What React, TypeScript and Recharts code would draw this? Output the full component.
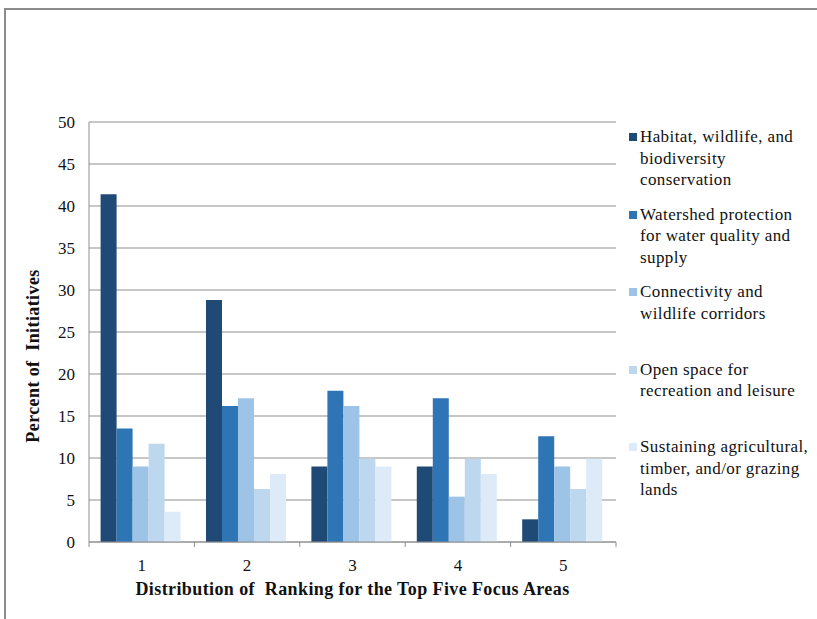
import React from 'react';
import { BarChart, Bar, XAxis, YAxis, CartesianGrid, Label } from 'recharts';

const categories = ['1', '2', '3', '4', '5'];
const yTicks = [0, 5, 10, 15, 20, 25, 30, 35, 40, 45, 50];

const habitat = [41.4, 28.8, 9.0, 9.0, 2.7];
const watershed = [13.5, 16.2, 18.0, 17.1, 12.6];
const connectivity = [9.0, 17.1, 16.2, 5.4, 9.0];
const openSpace = [11.7, 6.3, 9.9, 9.9, 6.3];
const agriculture = [3.6, 8.1, 9.0, 8.1, 9.9];

const seriesNames = [
  'Habitat, wildlife, and\nbiodiversity\nconservation',
  'Watershed protection\nfor water quality and\nsupply',
  'Connectivity and\nwildlife corridors',
  'Open space for\nrecreation and leisure',
  'Sustaining agricultural,\ntimber, and/or grazing\nlands',
];
const seriesKeys = ['habitat', 'watershed', 'connectivity', 'openSpace', 'agriculture'];
const seriesColors = ['#1f4a76', '#2e75b6', '#9dc3e6', '#bdd7ee', '#dcebf7'];

const data = categories.map((name, i) => ({
  name,
  habitat: habitat[i],
  watershed: watershed[i],
  connectivity: connectivity[i],
  openSpace: openSpace[i],
  agriculture: agriculture[i],
}));

const FONT = '"Liberation Serif", "Times New Roman", serif';
const GRID = '#8f8f8f';

// plot box
const W = 817;
const H = 619;
const PLOT_LEFT = 89;
const PLOT_RIGHT = 616;
const PLOT_TOP = 122;
const PLOT_BOTTOM = 542;
const BAND = (PLOT_RIGHT - PLOT_LEFT) / categories.length;

// excel style x ticks: marks between the categories, label in the middle
function XTick(props: any) {
  const { x, payload, index } = props;
  const y = PLOT_BOTTOM;
  const left = x - BAND / 2;
  return (
    <g>
      <line x1={left} x2={left} y1={y} y2={y + 5} stroke={GRID} strokeWidth={1} />
      {index === categories.length - 1 && (
        <line x1={x + BAND / 2} x2={x + BAND / 2} y1={y} y2={y + 5} stroke={GRID} strokeWidth={1} />
      )}
      <text x={x} y={y + 29} textAnchor="middle" fontSize={17} fontFamily={FONT} fill="#111">
        {payload.value}
      </text>
    </g>
  );
}

function YTick(props: any) {
  const { x, y, payload } = props;
  return (
    <text x={x} y={y + 6} textAnchor="end" fontSize={17} fontFamily={FONT} fill="#111">
      {payload.value}
    </text>
  );
}

function YTitle(props: any) {
  const { viewBox } = props;
  const cx = 33;
  const cy = viewBox.y + viewBox.height / 2 + 24;
  return (
    <text
      x={cx}
      y={cy}
      transform={`rotate(-90 ${cx} ${cy})`}
      textAnchor="middle"
      dominantBaseline="central"
      fontSize={18}
      fontWeight="bold"
      fontFamily={FONT}
      fill="#111"
      letterSpacing={0.4}
      style={{ whiteSpace: 'pre' }}
    >
      {'Percent of  Initiatives'}
    </text>
  );
}

function XTitle(props: any) {
  const { viewBox } = props;
  return (
    <text
      x={viewBox.x + viewBox.width / 2}
      y={595}
      textAnchor="middle"
      fontSize={18}
      fontWeight="bold"
      fontFamily={FONT}
      fill="#111"
      letterSpacing={0.4}
      style={{ whiteSpace: 'pre' }}
    >
      {'Distribution of  Ranking for the Top Five Focus Areas'}
    </text>
  );
}

export default function App() {
  return (
    <div style={{ position: 'absolute', left: 0, top: 0, width: W, height: H, overflow: 'hidden', background: '#fff' }}>
      {/* outer frame, only top and left edge are visible */}
      <div style={{ position: 'absolute', left: 4, top: 8, width: 900, height: 700, border: '2px solid #8c8c8c' }} />

      <div style={{ position: 'absolute', left: 0, top: 0 }}>
        <BarChart
          width={W}
          height={H}
          data={data}
          margin={{ top: PLOT_TOP, left: PLOT_LEFT - 70, right: W - PLOT_RIGHT, bottom: H - PLOT_BOTTOM - 60 }}
          barCategoryGap="11%"
          barGap={0}
        >
          <CartesianGrid vertical={false} stroke={GRID} strokeWidth={1} />
          <XAxis
            dataKey="name"
            height={60}
            stroke={GRID}
            tickLine={false}
            tick={<XTick />}
            interval={0}
          >
            <Label content={<XTitle />} />
          </XAxis>
          <YAxis
            width={70}
            domain={[0, 50]}
            ticks={yTicks}
            stroke={GRID}
            tickLine={false}
            tickSize={0}
            tickMargin={14}
            tick={<YTick />}
            interval={0}
          >
            <Label content={<YTitle />} />
          </YAxis>
          {seriesKeys.map((k, i) => (
            <Bar key={k} dataKey={k} fill={seriesColors[i]} isAnimationActive={false} />
          ))}
        </BarChart>
      </div>

      {/* legend */}
      <div style={{ position: 'absolute', left: 629, top: 126, fontFamily: FONT, fontSize: 17, color: '#111' }}>
        {seriesNames.map((n, i) => (
          <div key={i} style={{ height: 77.5, display: 'flex', alignItems: 'flex-start' }}>
            <div style={{ width: 8, height: 8, marginTop: 7, marginRight: 3, background: seriesColors[i], flexShrink: 0 }} />
            <div style={{ whiteSpace: 'pre-line', lineHeight: '21.5px', letterSpacing: 0.4 }}>{n}</div>
          </div>
        ))}
      </div>
    </div>
  );
}
